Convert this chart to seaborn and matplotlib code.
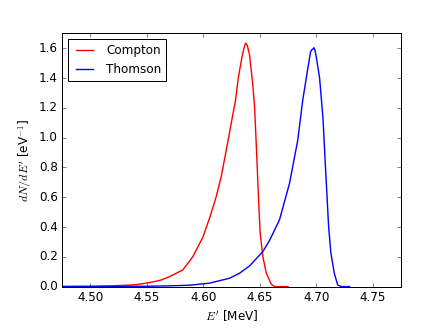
import numpy as np
import pandas as pd
import seaborn as sns
from matplotlib import pyplot as plt

# energy (MeV) and spectrum dN/dE' (1/eV)
compton_E = [4.470, 4.500, 4.520, 4.540, 4.5526, 4.5620, 4.5702, 4.582,
             4.5908, 4.5996, 4.6056, 4.6115, 4.6159, 4.6204, 4.6248, 4.6286,
             4.6310, 4.634, 4.636, 4.6375, 4.639, 4.641, 4.6439, 4.6455,
             4.6469, 4.6478, 4.6490, 4.6504, 4.6528, 4.6558, 4.6602, 4.6631,
             4.675]
compton_N = [0.0005, 0.002, 0.005, 0.012, 0.027, 0.042, 0.067, 0.112,
             0.201, 0.330, 0.460, 0.604, 0.738, 0.917, 1.097, 1.253,
             1.40, 1.53, 1.60, 1.635, 1.62, 1.555, 1.354, 1.20,
             0.96, 0.80, 0.58, 0.358, 0.201, 0.090, 0.016, 0.0,
             0.0]

thomson_E = [4.470, 4.500, 4.550, 4.570, 4.588, 4.6056, 4.6233, 4.6322,
             4.641, 4.6528, 4.6587, 4.6675, 4.6764, 4.6837, 4.6881, 4.6926,
             4.695, 4.696, 4.697, 4.698, 4.699, 4.700, 4.703, 4.706, 4.708,
             4.7094, 4.711, 4.713, 4.716, 4.719, 4.722, 4.7295]
thomson_N = [0.0, 0.0005, 0.002, 0.005, 0.009, 0.023, 0.056, 0.090,
             0.139, 0.235, 0.31, 0.448, 0.694, 0.985, 1.253, 1.466,
             1.577, 1.589, 1.595, 1.604, 1.585, 1.544, 1.40, 1.13, 0.83,
             0.63, 0.40, 0.224, 0.09, 0.011, 0.0, 0.0]

plt.style.use('classic')
fig = plt.figure(figsize=(446 / 72, 334 / 72), dpi=72)
fig.patch.set_facecolor('white')
ax = fig.add_axes([0.139, 0.142, 0.76, 0.758])

df_c = pd.DataFrame({'E': compton_E, 'N': compton_N})
df_t = pd.DataFrame({'E': thomson_E, 'N': thomson_N})
sns.lineplot(data=df_c, x='E', y='N', color='red', lw=1.4, label='Compton',
             sort=False, ax=ax)
sns.lineplot(data=df_t, x='E', y='N', color='blue', lw=1.4, label='Thomson',
             sort=False, ax=ax)

ax.set_xlim(4.475, 4.775)
ax.set_ylim(0, 1.7)
ax.set_xticks(np.arange(4.50, 4.76, 0.05))
ax.set_yticks(np.arange(0, 1.61, 0.2))
ax.set_xlabel("$E'$ [MeV]")
ax.set_ylabel("$dN/dE'$ [eV$^{-1}$]")
ax.legend(loc='upper left', fontsize=12)

fig.savefig('out.png', dpi=72, facecolor='white')
